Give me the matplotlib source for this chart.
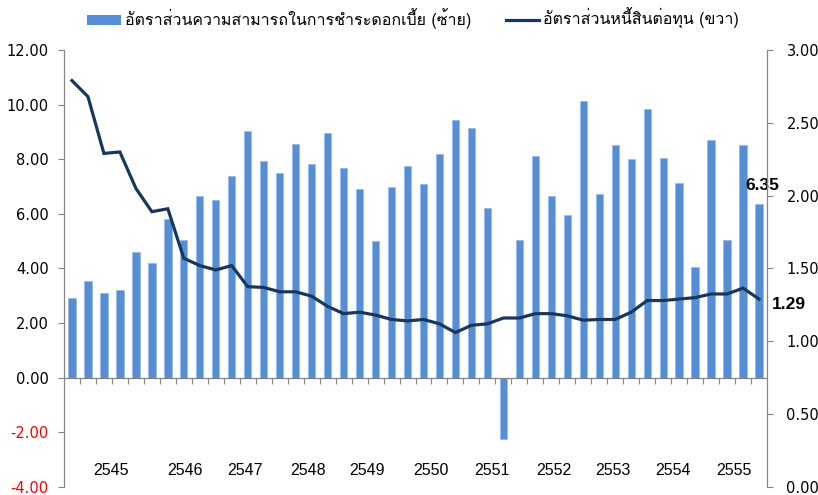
import matplotlib
matplotlib.use("Agg")
import matplotlib.pyplot as plt
from matplotlib import font_manager
from matplotlib.ft2font import FT2Font
from matplotlib.patches import Patch
from matplotlib.lines import Line2D
import matplotlib.transforms as mtransforms

# quarterly data, 2545-2555
icr = [2.93, 3.56, 3.10, 3.23, 4.60, 4.21, 5.82, 5.06, 6.64, 6.51, 7.38, 9.03,
       7.93, 7.50, 8.56, 7.84, 8.95, 7.67, 6.90, 4.99, 6.98, 7.75, 7.08, 8.18,
       9.42, 9.16, 6.23, -2.25, 5.03, 8.13, 6.64, 5.97, 10.14, 6.74, 8.51, 8.00,
       9.85, 8.05, 7.12, 4.04, 8.69, 5.06, 8.51, 6.35]
de = [2.79, 2.68, 2.29, 2.30, 2.05, 1.89, 1.91, 1.57, 1.52, 1.49, 1.52, 1.375,
      1.37, 1.34, 1.34, 1.31, 1.24, 1.19, 1.20, 1.18, 1.15, 1.14, 1.15, 1.12,
      1.06, 1.11, 1.12, 1.16, 1.16, 1.19, 1.19, 1.175, 1.145, 1.15, 1.15, 1.20,
      1.28, 1.28, 1.29, 1.30, 1.325, 1.325, 1.365, 1.29]
years = ["2545", "2546", "2547", "2548", "2549", "2550",
         "2551", "2552", "2553", "2554", "2555"]
year_pos = [2.45, 7.05, 10.85, 14.75, 18.45, 22.45, 26.3, 30.15, 33.85, 37.6, 41.4]

label_bar = "อัตราส่วนความสามารถในการชำระดอกเบี้ย (ซ้าย)"
label_line = "อัตราส่วนหนี้สินต่อทุน (ขวา)"


def find_thai_font():
    for f in font_manager.fontManager.ttflist:
        try:
            cmap = FT2Font(f.fname).get_charmap()
        except Exception:
            continue
        if ord("อ") in cmap:
            return f.name
    return None


thai = find_thai_font()
thai_family = [thai, "DejaVu Sans"] if thai else ["DejaVu Sans"]

x = list(range(len(icr)))

fig = plt.figure(figsize=(8.18, 4.95), dpi=100)
ax = fig.add_axes([0.0782, 0.0162, 0.8595, 0.8828])
ax2 = ax.twinx()

ax.bar(x, icr, width=0.46, color="#558ed5", edgecolor="#8db3e2", linewidth=0.4)
ax2.plot(x, de, color="#17375e", linewidth=2.3, solid_joinstyle="miter")

ax.set_xlim(-0.5, len(icr) - 0.5)
ax.set_ylim(-4, 12)
ax2.set_ylim(0, 3)
ax.set_yticks([-4, -2, 0, 2, 4, 6, 8, 10, 12])
ax.set_yticklabels([f"{v:.2f}" for v in ax.get_yticks()])
ax2.set_yticks([0, 0.5, 1, 1.5, 2, 2.5, 3])
ax2.set_yticklabels([f"{v:.2f}" for v in ax2.get_yticks()])
for lab, v in zip(ax.get_yticklabels(), ax.get_yticks()):
    lab.set_color("red" if v < 0 else "black")

# category boundary ticks on the zero line
ax.set_xticks([i + 0.5 for i in range(len(icr) - 1)])
ax.set_xticklabels([])
ax.spines["bottom"].set_position(("data", 0))
ax.tick_params(axis="x", direction="out", length=4, color="#868686")

for a in (ax, ax2):
    a.spines["top"].set_visible(False)
    for s in ("left", "right", "bottom"):
        a.spines[s].set_color("#868686")
        a.spines[s].set_linewidth(0.9)
ax2.spines["bottom"].set_visible(False)
ax.spines["right"].set_visible(False)
ax2.spines["left"].set_visible(False)

ax.tick_params(axis="y", length=4, color="#868686", pad=7, labelsize=10.5)
ax2.tick_params(axis="y", length=4, color="#868686", pad=10, labelsize=10.5)
for lab in ax.get_yticklabels() + ax2.get_yticklabels():
    lab.set_family("DejaVu Sans")

trans = mtransforms.blended_transform_factory(ax.transData, ax.transAxes)
for yr, p in zip(years, year_pos):
    ax.text(p, 0.037, yr, transform=trans, ha="center", va="center",
            fontsize=11.5, family="Liberation Sans")

# data labels for the last quarter
ax.annotate(f"{icr[-1]:.2f}", (x[-1], icr[-1]), xytext=(2, 8),
            textcoords="offset points", ha="center", va="bottom",
            fontsize=12.5, fontweight="bold", family="Liberation Sans")
ax2.annotate(f"{de[-1]:.2f}", (x[-1], de[-1]), xytext=(9, -4),
             textcoords="offset points", ha="left", va="center",
             fontsize=12.5, fontweight="bold", family="Liberation Sans")

handles = [Patch(facecolor="#558ed5", edgecolor="none"),
           Line2D([0], [0], color="#17375e", linewidth=2.3)]
fig.legend(handles, [label_bar, label_line], loc="center", ncol=2,
           bbox_to_anchor=(0.505, 0.962), frameon=False, handlelength=2.1,
           handleheight=0.6, handletextpad=0.25, columnspacing=2.2,
           prop={"family": thai_family, "size": 11.5})

fig.savefig("out.png", dpi=100)
